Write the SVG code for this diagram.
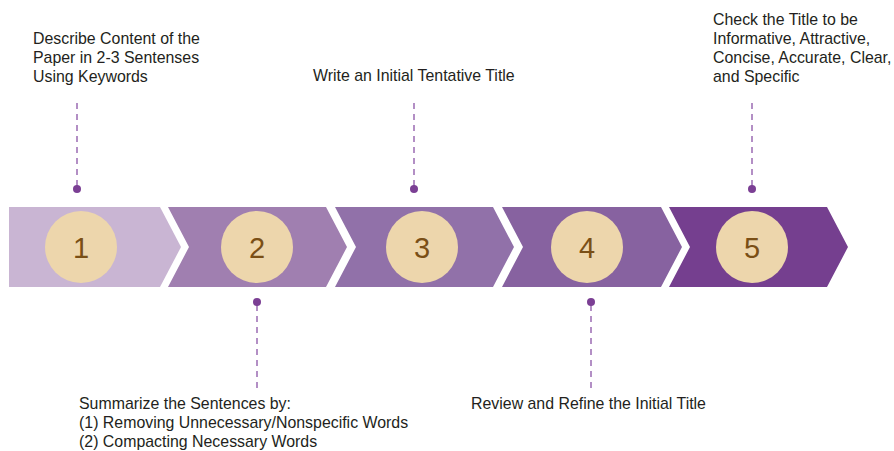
<svg xmlns="http://www.w3.org/2000/svg" width="894" height="451" viewBox="0 0 894 451">
<style>
.lbl{font-family:"Liberation Sans",Arial,sans-serif;font-size:15.9px;fill:#231f20}
.num{font-family:"Liberation Sans",Arial,sans-serif;font-size:29px;fill:#7a4f16;text-anchor:middle}
.circ{fill:#edd6ac}
.dash{stroke:#9a6bb3;stroke-width:1.5;stroke-dasharray:6,5;fill:none}
.dot{fill:#7b3f94}
</style>
<rect width="894" height="451" fill="#fff"/>
<g id="step1">
<polygon points="9,207 160,207 181,247 160,287 9,287" fill="#c9b5d3"/>
<circle class="circ" cx="81" cy="247" r="36"/>
<text class="num" x="81" y="257.5">1</text>
</g>
<g id="step2">
<polygon points="168,207 326,207 347,247 326,287 168,287 189,247" fill="#a07fb0"/>
<circle class="circ" cx="257" cy="247" r="36"/>
<text class="num" x="257" y="257.5">2</text>
</g>
<g id="step3">
<polygon points="335,207 493,207 514,247 493,287 335,287 356,247" fill="#9171a9"/>
<circle class="circ" cx="422" cy="247" r="36"/>
<text class="num" x="422" y="257.5">3</text>
</g>
<g id="step4">
<polygon points="502,207 661,207 682,247 661,287 502,287 523,247" fill="#8762a0"/>
<circle class="circ" cx="587" cy="247" r="36"/>
<text class="num" x="587" y="257.5">4</text>
</g>
<g id="step5">
<polygon points="669,207 827,207 848,247 827,287 669,287 690,247" fill="#753f8f"/>
<circle class="circ" cx="752" cy="247" r="36"/>
<text class="num" x="752" y="257.5">5</text>
</g>
<g id="connectors">
<line class="dash" x1="77" y1="103" x2="77" y2="186"/>
<circle class="dot" cx="77" cy="189" r="4"/>
<line class="dash" x1="414" y1="103" x2="414" y2="186"/>
<circle class="dot" cx="414" cy="189" r="4"/>
<line class="dash" x1="752" y1="103" x2="752" y2="186"/>
<circle class="dot" cx="752" cy="189" r="4"/>
<line class="dash" x1="257" y1="305" x2="257" y2="389"/>
<circle class="dot" cx="257" cy="302" r="4"/>
<line class="dash" x1="591" y1="305" x2="591" y2="389"/>
<circle class="dot" cx="591" cy="302" r="4"/>
</g>
<g id="label1">
<text class="lbl" x="33" y="44">Describe Content of the</text>
<text class="lbl" x="33" y="63">Paper in 2-3 Sentenses</text>
<text class="lbl" x="33" y="82">Using Keywords</text>
</g>
<g id="label3">
<text class="lbl" x="313" y="81">Write an Initial Tentative Title</text>
</g>
<g id="label5">
<text class="lbl" x="713" y="25">Check the Title to be</text>
<text class="lbl" x="713" y="44">Informative, Attractive,</text>
<text class="lbl" x="713" y="63">Concise, Accurate, Clear,</text>
<text class="lbl" x="713" y="82">and Specific</text>
</g>
<g id="label2">
<text class="lbl" x="79" y="409">Summarize the Sentences by:</text>
<text class="lbl" x="79" y="428">(1) Removing Unnecessary/Nonspecific Words</text>
<text class="lbl" x="79" y="447">(2) Compacting Necessary Words</text>
</g>
<g id="label4">
<text class="lbl" x="471" y="409">Review and Refine the Initial Title</text>
</g>
</svg>
